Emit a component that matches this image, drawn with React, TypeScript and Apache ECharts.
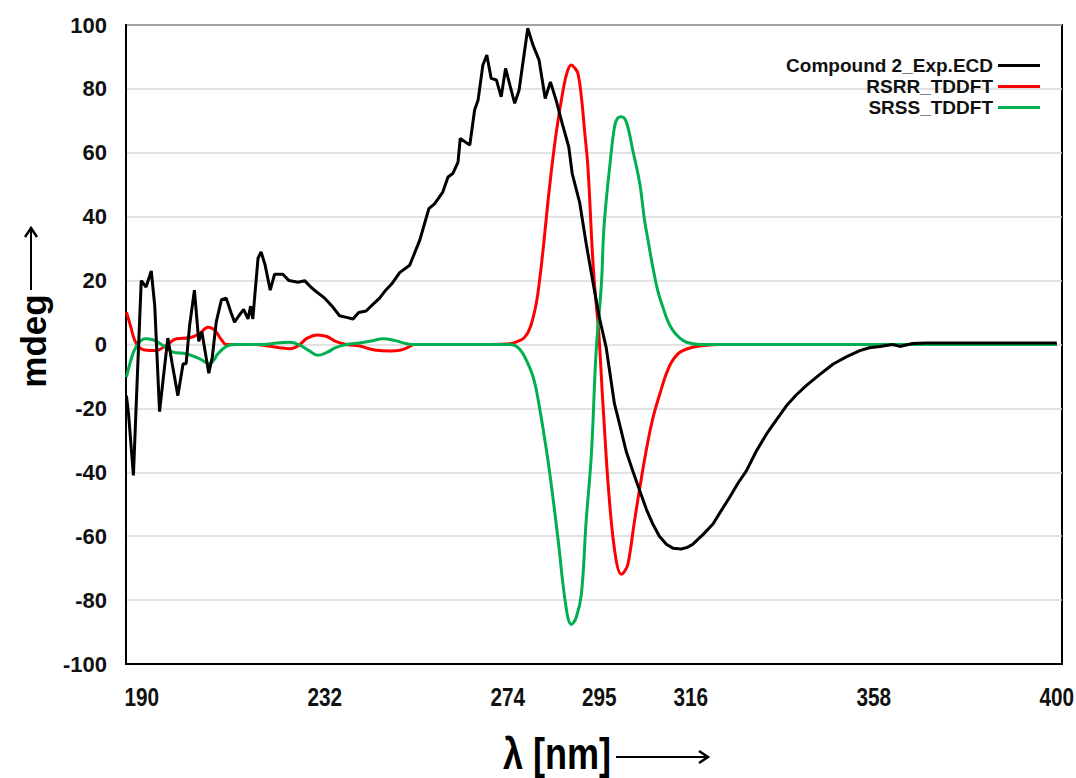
import React, { useEffect, useRef } from "react";
import * as echarts from "echarts";

const xTicks = [190, 232, 274, 295, 316, 358, 400];
const yTicks = [-100, -80, -60, -40, -20, 0, 20, 40, 60, 80, 100];

const expX = [186.5, 187.0, 188.1, 189.0, 189.9, 191.0, 192.2, 193.0, 194.1, 195.0, 196.0, 197.0, 198.3, 199.5, 200.2, 201.0, 202.1, 203.1, 203.8, 205.4, 206.2, 207.1, 208.3, 209.4, 210.5, 211.3, 212.3, 213.4, 214.4, 215.0, 215.5, 216.7, 217.4, 218.3, 219.5, 220.5, 222.4, 223.8, 225.9, 227.4, 228.8, 230.1, 232.0, 233.7, 235.4, 237.0, 238.5, 239.8, 241.5, 243.0, 244.6, 246.0, 247.4, 249.2, 251.5, 253.8, 255.9, 257.2, 259.1, 260.3, 261.4, 262.6, 263.1, 265.3, 266.4, 267.2, 268.3, 269.2, 270.2, 271.4, 272.5, 273.5, 275.6, 276.6, 278.6, 279.8, 281.2, 282.6, 283.8, 285.1, 286.5, 288.0, 288.8, 290.5, 292.0, 293.9, 295.1, 296.6, 298.5, 299.5, 301.2, 302.8, 304.3, 305.8, 307.3, 308.8, 310.4, 312.0, 313.8, 315.2, 316.5, 318.8, 321.1, 323.0, 324.9, 326.8, 328.8, 331.0, 333.4, 335.7, 338.0, 340.2, 342.5, 345.5, 348.7, 351.8, 354.8, 357.0, 359.4, 362.3, 364.0, 366.9, 370, 380, 390, 400];
const expY = [-16, -22, -41, -10, 20, 18, 23, 12, -21, -10, 2, -6, -16, -6, -6, 6, 17, 1, 4, -9, -4, 7, 14, 14.5, 10, 7, 9, 11, 8, 12, 8, 27, 29, 25, 17, 22, 22, 20, 19.5, 20, 18, 16.5, 14.5, 12, 9, 8.5, 8, 10, 10.5, 12.5, 14.5, 17, 19, 22.5, 24.8, 32.6, 42.5, 44, 47.7, 52.4, 53.5, 57.1, 64.5, 62.4, 73.4, 76.5, 87.5, 90.6, 83.3, 82.8, 77.5, 86.4, 75.5, 79.6, 99, 93.7, 89, 77, 82.2, 76.5, 69.2, 61.9, 53.5, 44.5, 31.6, 16.9, 8, -1, -18.6, -24, -33.5, -40, -45.8, -51.5, -56.2, -60, -62.5, -63.8, -64, -63.5, -62.5, -59.5, -56.2, -52, -47.9, -43.5, -39.5, -33.5, -28, -23.5, -19.1, -15.8, -12.9, -9.5, -6.1, -3.8, -1.9, -1, -0.6, 0, -0.6, 0.3, 0.5, 0.5, 0.5, 0.5];

const rsrrX = [186.5, 187.5, 188.4, 189.5, 190.7, 193.3, 195.6, 198.0, 201.0, 203.3, 205.2, 206.2, 207.1, 208.3, 209.4, 211.3, 216, 219, 221.6, 224.0, 226, 228, 230.4, 232.5, 234.5, 237.0, 240, 243.8, 247, 249.2, 251, 252.6, 260, 270, 274.4, 276, 277.9, 279.2, 280.5, 281.3, 282.1, 283.6, 285.1, 286.7, 287.7, 288.6, 289.4, 290.1, 290.9, 291.7, 292.4, 293.4, 293.9, 294.9, 295.9, 297.4, 298.9, 300.1, 300.8, 301.6, 303.1, 304.7, 306.2, 307.5, 308.9, 310.3, 311.6, 313, 314.2, 316, 318.0, 322.6, 340, 370, 400];
const rsrrY = [10.1, 5.5, 1.3, -1, -1.7, -1.9, -0.3, 1.8, 2.1, 3.4, 5.4, 5, 3.9, 1.5, 0, 0, 0, -0.5, -1, -1.3, -0.3, 2, 3, 2.5, 1, 0, -0.5, -1.8, -2, -1.8, -1, 0, 0, 0, 0.2, 0.8, 2.3, 5.5, 12.5, 20, 29.5, 49.3, 66, 79.6, 85.5, 87.5, 86.5, 84.9, 77.5, 66, 55.6, 29.5, 19, 3.4, -19.7, -49.9, -67.7, -71.9, -71, -68.7, -55.2, -41.6, -30.1, -22, -15.5, -9.5, -5.5, -3, -1.9, -1, -0.5, 0, 0, 0, 0];

const srssX = [186.5, 187.5, 188.7, 190.7, 192.6, 194.9, 197.2, 200.2, 203.3, 205.6, 206.5, 207.5, 209.4, 211.3, 218, 221, 224, 226, 228.5, 230.4, 232.5, 234.5, 237, 240, 243, 245.3, 248, 250, 252, 260, 274.4, 276.7, 279.0, 280.2, 281.3, 282.9, 284.2, 285.5, 287.4, 288.6, 289.7, 290.9, 292.0, 293.2, 294.3, 295.5, 296.0, 296.6, 297.4, 298.5, 299.3, 300.1, 301.2, 302.7, 304.3, 305.4, 306.2, 307.3, 308.4, 309.6, 310.7, 311.9, 313.5, 315.0, 318, 340, 370, 400];
const srssY = [-10.2, -5, -0.8, 1.8, 1.5, -0.3, -2.4, -2.9, -4.5, -6, -5, -2.9, -0.6, 0, 0, 0.5, 0.7, 0, -2, -3.4, -2.5, -1, 0, 0.5, 1.2, 1.8, 1.3, 0.5, 0, 0, 0, -1.4, -7.1, -12, -19.7, -33.2, -46, -60.4, -82.3, -87.6, -85.5, -78.2, -55.2, -34.3, -1.9, 19, 34.8, 45, 55.6, 68.1, 71, 71.3, 69.7, 60.8, 50.4, 38.9, 32.6, 24.2, 17, 11.7, 7.5, 4.4, 2, 0.7, 0, 0, 0, 0];

const seriesNames = ["Compound 2_Exp.ECD", "RSRR_TDDFT", "SRSS_TDDFT"];
const seriesColors = ["#000000", "#ff0000", "#00b050"];

const zip = (xs: number[], ys: number[]) => xs.map((x, i) => [x, ys[i]]);

export default function App() {
  const ref = useRef<HTMLDivElement>(null);
  useEffect(() => {
    if (!ref.current) return;
    const chart = echarts.init(ref.current, undefined, { renderer: "svg" });
    const arial = "'Liberation Sans', Arial, sans-serif";
    const datasets = [zip(expX, expY), zip(rsrrX, rsrrY), zip(srssX, srssY)];
    chart.setOption({
      animation: false,
      backgroundColor: "#ffffff",
      grid: {
        left: 126,
        top: 25,
        right: 14,
        bottom: 114,
        show: true,
        borderColor: "#000",
        borderWidth: 2,
        containLabel: false,
        outerBoundsMode: "none",
      },
      legend: {
        orient: "vertical",
        right: 36,
        top: 56,
        padding: 0,
        align: "right",
        icon: "rect",
        itemWidth: 42,
        itemHeight: 3,
        itemGap: 2,
        data: seriesNames,
        textStyle: {
          fontFamily: arial,
          fontWeight: "bold",
          fontSize: 19,
          lineHeight: 19,
          color: "#111",
        },
      },
      xAxis: {
        type: "value",
        min: 186.4,
        max: 401.2,
        axisLine: { show: true, onZero: false, lineStyle: { color: "#000", width: 2 } },
        axisTick: { show: false },
        splitLine: { show: false },
        axisLabel: { show: false },
      },
      yAxis: {
        type: "value",
        min: -100,
        max: 100,
        interval: 20,
        axisLine: { show: true, onZero: false, lineStyle: { color: "#000", width: 2 } },
        axisTick: { show: false },
        splitLine: { show: true, lineStyle: { color: "#d9d9d9", width: 1.5 } },
        axisLabel: {
          customValues: yTicks,
          margin: 19,
          fontFamily: arial,
          fontWeight: "bold",
          fontSize: 22,
          color: "#111",
        },
      },
      series: seriesNames.map((name, i) => ({
        name,
        type: "line",
        data: datasets[i],
        showSymbol: false,
        smooth: i === 0 ? false : 0.4,
        lineStyle: { color: seriesColors[i], width: 3 },
        itemStyle: { color: seriesColors[i] },
        z: i === 0 ? 3 : 2,
      })),
    });

    const yBottom = chart.convertToPixel({ yAxisIndex: 0 }, -100) as number;
    const tickTexts = xTicks.map((v) => ({
      type: "text",
      x: chart.convertToPixel({ xAxisIndex: 0 }, v) as number,
      y: yBottom + 33,
      scaleX: 0.83,
      style: {
        text: String(v),
        font: "bold 25px " + arial,
        fill: "#111",
        textAlign: "center",
        textVerticalAlign: "middle",
      },
    }));

    chart.setOption({
      graphic: [
        ...tickTexts,
        {
          type: "text",
          x: 33,
          y: 341,
          rotation: Math.PI / 2,
          style: {
            text: "mdeg",
            font: "bold 35px " + arial,
            fill: "#000",
            textAlign: "center",
            textVerticalAlign: "middle",
          },
        },
        {
          type: "line",
          shape: { x1: 31, y1: 290, x2: 31, y2: 230 },
          style: { stroke: "#000", lineWidth: 2 },
        },
        {
          type: "polyline",
          shape: { points: [[25, 237], [31, 228], [37, 237]] },
          style: { stroke: "#000", lineWidth: 2.5, fill: null },
        },
        {
          type: "text",
          x: 557,
          y: 754,
          scaleX: 0.82,
          style: {
            text: "λ [nm]",
            font: "bold 44px " + arial,
            fill: "#000",
            textAlign: "center",
            textVerticalAlign: "middle",
          },
        },
        {
          type: "line",
          shape: { x1: 616, y1: 757, x2: 707, y2: 757 },
          style: { stroke: "#000", lineWidth: 2 },
        },
        {
          type: "polyline",
          shape: { points: [[699, 751], [708, 757], [699, 763]] },
          style: { stroke: "#000", lineWidth: 2.5, fill: null },
        },
      ],
    });
    return () => chart.dispose();
  }, []);
  return (
    <div
      ref={ref}
      style={{ position: "fixed", left: 0, top: 0, width: 1076, height: 778, background: "#fff" }}
    />
  );
}
